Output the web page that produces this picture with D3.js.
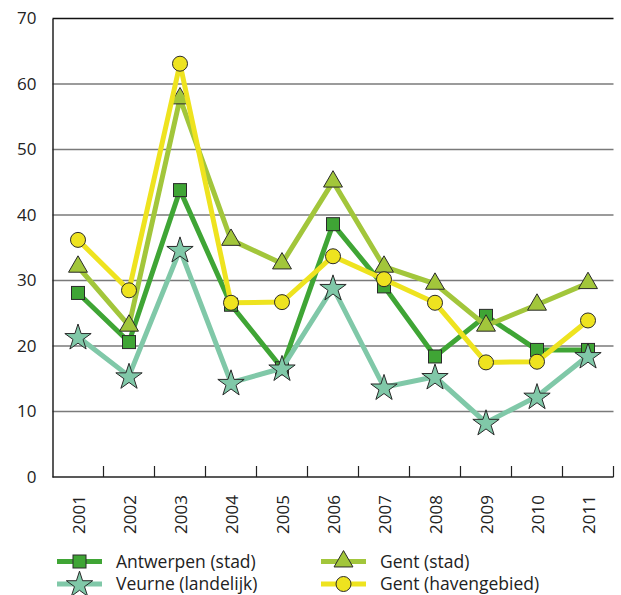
<!DOCTYPE html>
<html>
<head>
<meta charset="utf-8">
<script src="https://cdn.jsdelivr.net/npm/d3@7"></script>
<style>
  body { margin: 0; background: #fff; }
  text { font-family: "Open Sans", "Noto Sans", sans-serif; fill: #222; }
</style>
</head>
<body>
<div id="chart"></div>
<script>
// chart data
const years = ["2001","2002","2003","2004","2005","2006","2007","2008","2009","2010","2011"];
const antwerpen = [28.1, 20.6, 43.8, 26.3, 16.6, 38.6, 29.1, 18.4, 24.6, 19.4, 19.4];
const veurne    = [21.4, 15.4, 34.7, 14.4, 16.6, 28.9, 13.7, 15.3, 8.3, 12.3, 18.5];
const gentStad  = [32.1, 23.1, 57.8, 36.2, 32.6, 45.1, 32.1, 29.5, 23.1, 26.3, 29.6];
const gentHaven = [36.2, 28.5, 63.1, 26.6, 26.7, 33.7, 30.2, 26.6, 17.5, 17.6, 23.9];
const yTicks = [0, 10, 20, 30, 40, 50, 60, 70];

const series = [
  { name: "Antwerpen (stad)",   values: antwerpen, color: "#3fa535", shape: "square" },
  { name: "Veurne (landelijk)", values: veurne,    color: "#80c8a8", shape: "star" },
  { name: "Gent (stad)",        values: gentStad,  color: "#a2c63b", shape: "triangle" },
  { name: "Gent (havengebied)", values: gentHaven, color: "#eee31f", shape: "circle" }
];

const width = 621, height = 595;
const mLeft = 52.5, mRight = 613.5, mTop = 18.5, mBottom = 477;

const svg = d3.select("#chart").append("svg")
  .attr("width", width)
  .attr("height", height);

const x = d3.scaleBand().domain(years).range([mLeft, mRight]);
const y = d3.scaleLinear().domain([0, 70]).range([mBottom, mTop]);

// grid lines
svg.append("g").selectAll("line")
  .data(yTicks.filter(d => d > 0))
  .join("line")
  .attr("x1", mLeft).attr("x2", mRight)
  .attr("y1", d => y(d)).attr("y2", d => y(d))
  .attr("stroke", d => d == 70 ? "#111" : "#7a7a7a")
  .attr("stroke-width", 1.5);

// y axis
const yAxis = svg.append("g")
  .attr("transform", `translate(${mLeft},0)`)
  .call(d3.axisLeft(y).tickValues(yTicks).tickSize(0).tickPadding(16));
yAxis.select(".domain").attr("stroke", "#222").attr("stroke-width", 1.5);
yAxis.selectAll("text").attr("font-size", 17).attr("font-family", null).attr("fill", "#222");

// x axis, ticks at band boundaries pointing up
svg.append("line")
  .attr("x1", mLeft).attr("x2", mRight)
  .attr("y1", mBottom).attr("y2", mBottom)
  .attr("stroke", "#222").attr("stroke-width", 1.5);
svg.append("g").selectAll("line")
  .data(years)
  .join("line")
  .attr("x1", d => x(d) + x.bandwidth()).attr("x2", d => x(d) + x.bandwidth())
  .attr("y1", mBottom).attr("y2", mBottom - 11)
  .attr("stroke", "#222").attr("stroke-width", 1.2);

svg.append("g").selectAll("text")
  .data(years)
  .join("text")
  .attr("transform", d => `translate(${x(d) + x.bandwidth() / 2 + 6.5},${mBottom + 18}) rotate(-90)`)
  .attr("text-anchor", "end")
  .attr("font-size", 17)
  .text(d => d);

const star = d3.symbol().type(d3.symbolStar).size(215);
const tri = d3.symbol().type(d3.symbolTriangle).size(155);

function drawMarker(g, shape, color, cx, cy) {
  let m;
  if (shape == "square") {
    m = g.append("rect").attr("x", cx - 6.5).attr("y", cy - 6.5).attr("width", 13).attr("height", 13);
  } else if (shape == "circle") {
    m = g.append("circle").attr("cx", cx).attr("cy", cy).attr("r", 7.5);
  } else if (shape == "star") {
    m = g.append("path").attr("d", star).attr("transform", `translate(${cx},${cy + 1})`);
  } else {
    m = g.append("path").attr("d", tri).attr("transform", `translate(${cx},${cy})`);
  }
  m.attr("fill", color).attr("stroke", "#2a2a2a").attr("stroke-width", 1);
}

const line = d3.line()
  .x((d, i) => x(years[i]) + x.bandwidth() / 2)
  .y(d => y(d));

series.forEach(s => {
  const g = svg.append("g");
  g.append("path")
    .attr("d", line(s.values))
    .attr("fill", "none")
    .attr("stroke", s.color)
    .attr("stroke-width", 5)
    .attr("stroke-linejoin", "miter");
  s.values.forEach((v, i) => drawMarker(g, s.shape, s.color, x(years[i]) + x.bandwidth() / 2, y(v)));
});

// legend
const legendPos = [
  { lx: 57, ly: 561.5 }, { lx: 57, ly: 584 },
  { lx: 321, ly: 561.5 }, { lx: 321, ly: 584 }
];
series.forEach((s, i) => {
  const p = legendPos[i];
  const g = svg.append("g");
  g.append("line")
    .attr("x1", p.lx).attr("x2", p.lx + 45)
    .attr("y1", p.ly).attr("y2", p.ly)
    .attr("stroke", s.color).attr("stroke-width", 5);
  drawMarker(g, s.shape, s.color, p.lx + 22.5, p.ly);
  g.append("text")
    .attr("x", p.lx + 59)
    .attr("y", p.ly)
    .attr("dy", "0.35em")
    .attr("font-size", 17.5)
    .text(s.name);
});
</script>
</body>
</html>
